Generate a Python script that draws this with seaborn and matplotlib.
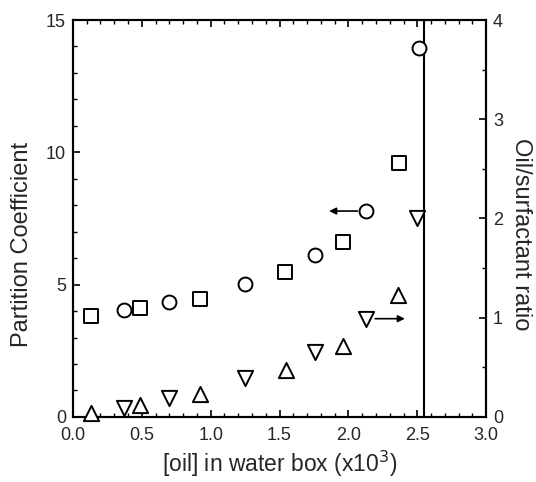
import matplotlib
matplotlib.use("Agg")
import matplotlib.pyplot as plt
import seaborn as sns
from matplotlib.ticker import MultipleLocator

sns.set_style("ticks")
plt.rcParams['font.family'] = ['Liberation Sans', 'DejaVu Sans']

# Partition coefficient (left axis)
circ_x = [0.37, 0.70, 1.25, 1.76, 2.13, 2.51]
circ_y = [4.04, 4.34, 5.02, 6.12, 7.78, 13.94]
sq_x = [0.13, 0.49, 0.92, 1.54, 1.96, 2.37]
sq_y = [3.82, 4.12, 4.46, 5.48, 6.61, 9.60]
# Oil/surfactant ratio (right axis)
up_x = [0.13, 0.49, 0.92, 1.55, 1.96, 2.36]
up_y = [0.04, 0.12, 0.23, 0.47, 0.71, 1.23]
dn_x = [0.37, 0.70, 1.25, 1.76, 2.13, 2.50]
dn_y = [0.09, 0.19, 0.39, 0.65, 0.99, 2.00]
vline_x = 2.55

fig = plt.figure(figsize=(5.36, 4.82), dpi=100)
ax = fig.add_axes([0.136, 0.135, 0.771, 0.8235])
ax2 = ax.twinx()

mk = dict(facecolor='white', edgecolor='black', linewidth=1.4, legend=False, zorder=3, clip_on=False)
sns.scatterplot(x=circ_x, y=circ_y, marker='o', s=100, ax=ax, **mk)
sns.scatterplot(x=sq_x, y=sq_y, marker='s', s=90, ax=ax, **mk)
sns.scatterplot(x=up_x, y=up_y, marker='^', s=120, ax=ax2, **mk)
sns.scatterplot(x=dn_x, y=dn_y, marker='v', s=120, ax=ax2, **mk)

ax.axvline(vline_x, color='black', lw=1.5)

# arrows
ax.annotate('', xy=(1.84, circ_y[4]), xytext=(circ_x[4] - 0.045, circ_y[4]),
            arrowprops=dict(arrowstyle='-|>', color='black', lw=1.2, mutation_scale=10))
ax2.annotate('', xy=(2.43, dn_y[4]), xytext=(dn_x[4] + 0.045, dn_y[4]),
             arrowprops=dict(arrowstyle='-|>', color='black', lw=1.2, mutation_scale=10))

ax.set_xlim(0, 3)
ax.set_ylim(0, 15)
ax2.set_ylim(0, 4)
ax.xaxis.set_major_locator(MultipleLocator(0.5))
ax.xaxis.set_minor_locator(MultipleLocator(0.1))
ax.yaxis.set_major_locator(MultipleLocator(5))
ax.yaxis.set_minor_locator(MultipleLocator(1))
ax2.yaxis.set_major_locator(MultipleLocator(1))
ax2.yaxis.set_minor_locator(MultipleLocator(0.5))
ax.set_xticklabels([f"{v:.1f}" for v in ax.get_xticks()])

ax.tick_params(axis='x', which='both', direction='in', top=True, bottom=True)
ax.tick_params(axis='y', which='both', direction='in', left=True, right=False)
ax2.tick_params(axis='y', which='both', direction='in', right=True, left=False)
for a in (ax, ax2):
    a.tick_params(which='major', length=5, width=1.2, labelsize=13, color='black')
    a.tick_params(which='minor', length=3, width=1.0, color='black')
    for s in a.spines.values():
        s.set_visible(True)
        s.set_linewidth(1.5)
        s.set_color('black')
ax.tick_params(axis='x', pad=7)
ax.tick_params(axis='y', pad=5)
ax2.tick_params(axis='y', pad=5)

ax.set_xlabel('[oil] in water box (x10$^3$)', fontsize=16.5, labelpad=4)
ax.set_ylabel('Partition Coefficient', fontsize=17)
ax2.set_ylabel('Oil/surfactant ratio', fontsize=17, rotation=270)
ax.yaxis.set_label_coords(-0.097, 0.435)
ax2.yaxis.set_label_coords(1.111, 0.46)

fig.savefig('out.png', dpi=100)
